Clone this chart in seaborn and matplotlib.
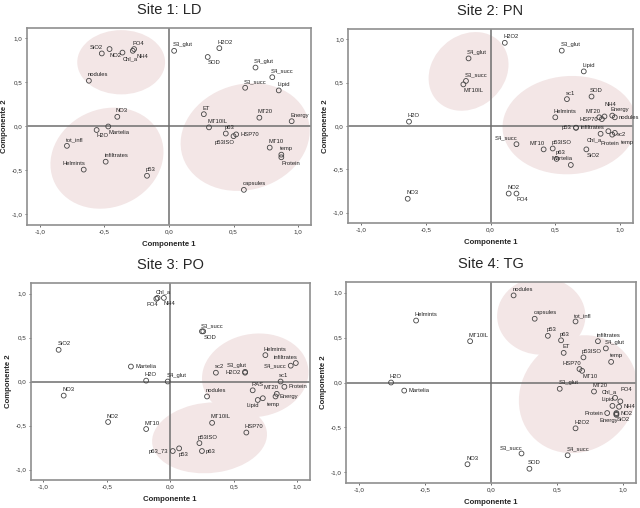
import numpy as np
import pandas as pd
import seaborn as sns
import matplotlib.pyplot as plt
from matplotlib.patches import Ellipse
from matplotlib.ticker import FuncFormatter

sns.set_theme(style='white')
plt.rcParams['font.family'] = ['Liberation Sans', 'DejaVu Sans']

# Site 1: LD
s1_labels = ['SiO2', 'NO2', 'Chl_a', 'NH4', 'PO4', 'nodules', 'NO3', 'H2O', 'Martelia',
             'tot_infl', 'infiltrates', 'Helmints', 'p53', 'S3_glut', 'H2O2', 'SOD',
             'S4_glut', 'S4_succ', 'S3_succ', 'Lipid', 'ET', 'MT20', 'Energy', 'MT10IL',
             'p63', 'p53ISO', 'HSP70', 'MT10', 'temp', 'Protein', 'capsules']
s1_x = [-0.52, -0.46, -0.36, -0.28, -0.27, -0.62, -0.40, -0.56, -0.47,
        -0.79, -0.49, -0.66, -0.17, 0.04, 0.39, 0.30,
        0.67, 0.80, 0.59, 0.85, 0.27, 0.70, 0.95, 0.31,
        0.44, 0.50, 0.52, 0.78, 0.87, 0.87, 0.58]
s1_y = [0.83, 0.88, 0.84, 0.86, 0.88, 0.52, 0.11, -0.04, 0.00,
        -0.22, -0.40, -0.49, -0.56, 0.86, 0.89, 0.79,
        0.67, 0.56, 0.44, 0.41, 0.14, 0.10, 0.06, -0.01,
        -0.08, -0.11, -0.09, -0.24, -0.32, -0.35, -0.72]
s1_groups = [(-0.37, 0.73, 0.68, 0.73, 0), (-0.48, -0.36, 0.86, 1.16, -12), (0.59, -0.12, 0.98, 1.24, -15)]

# Site 2: PN
s2_labels = ['H2O2', 'S3_glut', 'S4_glut', 'S3_succ', 'MT10IL', 'Lipid', 'sc1', 'SOD',
             'Helmints', 'MT20', 'HSP70', 'NH4', 'Energy', 'nodules', 'p53', 'infiltrates',
             'Chl_a', 'Protein', 'sc2', 'temp', 'SiO2', 'S4_succ', 'MT10', 'p53ISO',
             'p63', 'Martelia', 'H2O', 'NO3', 'NO2', 'PO4']
s2_x = [0.11, 0.55, -0.17, -0.19, -0.21, 0.72, 0.59, 0.78,
        0.50, 0.84, 0.86, 0.88, 0.94, 0.96, 0.66, 0.66,
        0.85, 0.91, 0.94, 0.96, 0.74, 0.20, 0.41, 0.48,
        0.51, 0.62, -0.63, -0.64, 0.14, 0.20]
s2_y = [0.96, 0.87, 0.78, 0.52, 0.48, 0.63, 0.31, 0.34,
        0.10, 0.10, 0.08, 0.11, 0.12, 0.10, -0.02, -0.02,
        -0.09, -0.06, -0.10, -0.08, -0.27, -0.21, -0.27, -0.26,
        -0.38, -0.45, 0.05, -0.84, -0.78, -0.78]
s2_groups = [(-0.17, 0.63, 0.60, 0.92, -12), (0.61, 0.01, 1.03, 1.14, -12)]

# Site 3: PO
s3_labels = ['PO4', 'Chl_a', 'NH4', 'S3_succ', 'SOD', 'SiO2', 'Martelia', 'H2O', 'S4_glut',
             'NO3', 'NO2', 'MT10', 'Helmints', 'infiltrates', 'S4_succ', 'S3_glut', 'H2O2',
             'sc2', 'sc1', 'Protein', 'RAS', 'MT20', 'Energy', 'Lipid', 'temp', 'nodules',
             'MT10IL', 'HSP70', 'p53ISO', 'p63', 'p63_73', 'p53']
s3_x = [-0.11, -0.10, -0.05, 0.25, 0.26, -0.88, -0.31, -0.19, -0.02,
        -0.84, -0.49, -0.19, 0.75, 0.99, 0.95, 0.59, 0.59,
        0.36, 0.87, 0.90, 0.65, 0.84, 0.83, 0.69, 0.73, 0.29,
        0.33, 0.60, 0.23, 0.25, 0.02, 0.07]
s3_y = [0.94, 0.95, 0.95, 0.57, 0.57, 0.36, 0.17, 0.01, 0.00,
        -0.16, -0.46, -0.54, 0.30, 0.21, 0.18, 0.11, 0.10,
        0.10, 0.00, -0.06, -0.10, -0.14, -0.17, -0.21, -0.19, -0.17,
        -0.47, -0.58, -0.70, -0.79, -0.79, -0.76]
s3_groups = [(0.67, 0.07, 0.83, 0.96, -15), (0.31, -0.64, 0.92, 0.79, 20)]

# Site 4: TG
s4_labels = ['nodules', 'capsules', 'tot_infl', 'Helmints', 'MT10IL', 'p53', 'p63', 'ET',
             'infiltrates', 'S4_glut', 'temp', 'p53ISO', 'HSP70', 'MT10', 'H2O', 'Martelia',
             'S3_glut', 'MT20', 'Chl_a', 'PO4', 'NH4', 'NO2', 'SiO2', 'Lipid', 'Protein',
             'Energy', 'H2O2', 'S3_succ', 'S4_succ', 'SOD', 'NO3']
s4_x = [0.17, 0.33, 0.64, -0.57, -0.16, 0.43, 0.53, 0.55,
        0.81, 0.87, 0.91, 0.70, 0.67, 0.69, -0.76, -0.66,
        0.52, 0.78, 0.94, 0.98, 0.97, 0.95, 0.95, 0.92, 0.88,
        0.95, 0.64, 0.23, 0.58, 0.29, -0.18]
s4_y = [0.97, 0.71, 0.68, 0.69, 0.46, 0.52, 0.47, 0.33,
        0.46, 0.38, 0.23, 0.28, 0.15, 0.13, 0.00, -0.09,
        -0.07, -0.10, -0.17, -0.21, -0.27, -0.34, -0.35, -0.26, -0.34,
        -0.36, -0.51, -0.79, -0.81, -0.96, -0.91]
s4_groups = [(0.38, 0.74, 0.67, 0.86, 0), (0.66, -0.13, 0.89, 1.32, -8)]

# where each label sits around its point (default: above right)
s1_place = {'SiO2': 'al', 'NO2': 'b', 'Chl_a': 'b', 'NH4': 'br', 'H2O': 'b', 'Martelia': 'b',
            'SOD': 'b', 'p53ISO': 'bl', 'HSP70': 'r', 'Protein': 'b', 'Helmints': 'al'}
s2_place = {'MT10IL': 'b', 'HSP70': 'l', 'nodules': 'r', 'p53': 'l', 'infiltrates': 'r',
            'Chl_a': 'bl', 'Protein': 'bb', 'sc2': 'r', 'temp': 'brr', 'SiO2': 'b', 'MT10': 'al',
            'Martelia': 'al', 'PO4': 'b', 'S4_succ': 'al', 'MT20': 'al', 'NH4': 'aa'}
s3_place = {'PO4': 'bl', 'NH4': 'b', 'SOD': 'b', 'Martelia': 'r', 'Protein': 'r', 'MT20': 'al',
            'Energy': 'r', 'Lipid': 'bl', 'temp': 'br', 'infiltrates': 'al', 'S4_succ': 'l',
            'S3_glut': 'al', 'H2O2': 'l', 'p63_73': 'l', 'p53': 'b', 'p63': 'r'}
s4_place = {'Martelia': 'r', 'MT10': 'b', 'HSP70': 'al', 'Chl_a': 'al', 'NH4': 'r', 'NO2': 'r',
            'SiO2': 'b', 'Energy': 'bl', 'Lipid': 'al', 'Protein': 'l', 'S3_succ': 'al',
            'PO4': 'aa'}

sites = [
    ('Site 1: LD', s1_labels, s1_x, s1_y, s1_groups, s1_place, [0.042, 0.557, 0.444, 0.388]),
    ('Site 2: PN', s2_labels, s2_x, s2_y, s2_groups, s2_place, [0.544, 0.561, 0.445, 0.382]),
    ('Site 3: PO', s3_labels, s3_x, s3_y, s3_groups, s3_place, [0.048, 0.055, 0.436, 0.388]),
    ('Site 4: TG', s4_labels, s4_x, s4_y, s4_groups, s4_place, [0.541, 0.049, 0.453, 0.396]),
]

offsets = {
    'a': ((-1, 2.5), 'left', 'bottom'),
    'aa': ((0, 6.5), 'left', 'bottom'),
    'al': ((1, 2.5), 'right', 'bottom'),
    'b': ((0, -2.5), 'left', 'top'),
    'bb': ((-6, -7), 'left', 'top'),
    'br': ((3, -2.5), 'left', 'top'),
    'brr': ((4, -5), 'left', 'top'),
    'bl': ((1, -2.5), 'right', 'top'),
    'l': ((-3, 0), 'right', 'center'),
    'r': ((3, 0), 'left', 'center'),
}

comma = FuncFormatter(lambda v, p: ('%.1f' % v).replace('.', ','))

fig = plt.figure(figsize=(6.4, 5.08), dpi=100)
for title, labels, xs, ys, groups, place, rect in sites:
    ax = fig.add_axes(rect)
    df = pd.DataFrame({'var': labels, 'c1': xs, 'c2': ys})
    for cx, cy, w, h, ang in groups:
        ax.add_patch(Ellipse((cx, cy), w, h, angle=ang, facecolor='#f3e6e6',
                             edgecolor='none', zorder=0))
    ax.axhline(0, color='#6e6e6e', lw=1.1, zorder=1)
    ax.axvline(0, color='#6e6e6e', lw=1.1, zorder=1)
    sns.scatterplot(data=df, x='c1', y='c2', ax=ax, marker='o', s=12,
                    facecolor='none', edgecolor='#444444', linewidth=0.6, zorder=3)
    for _, r in df.iterrows():
        off, ha, va = offsets[place.get(r['var'], 'a')]
        ax.annotate(r['var'], (r['c1'], r['c2']), xytext=off, textcoords='offset points',
                    fontsize=4.2, color='#222222', ha=ha, va=va, zorder=4)
    ax.set_xlim(-1.1, 1.1)
    ax.set_ylim(-1.12, 1.12)
    ax.set_xticks([-1.0, -0.5, 0.0, 0.5, 1.0])
    ax.set_yticks([-1.0, -0.5, 0.0, 0.5, 1.0])
    ax.xaxis.set_major_formatter(comma)
    ax.yaxis.set_major_formatter(comma)
    ax.tick_params(axis='both', labelsize=4.5, length=1.5, width=0.6, color='#555555',
                   direction='out', bottom=True, left=True, pad=1.5, labelcolor='#333333')
    for sp in ax.spines.values():
        sp.set_color('#8f8f8f')
        sp.set_linewidth(1.2)
    ax.set_xlabel('Componente 1', fontsize=5.6, fontweight='bold', labelpad=5)
    ax.set_ylabel('Componente 2', fontsize=5.6, fontweight='bold', labelpad=3)
    ax.set_title(title, fontsize=10.5, pad=10)

fig.savefig('out.png', dpi=100, facecolor='white')
